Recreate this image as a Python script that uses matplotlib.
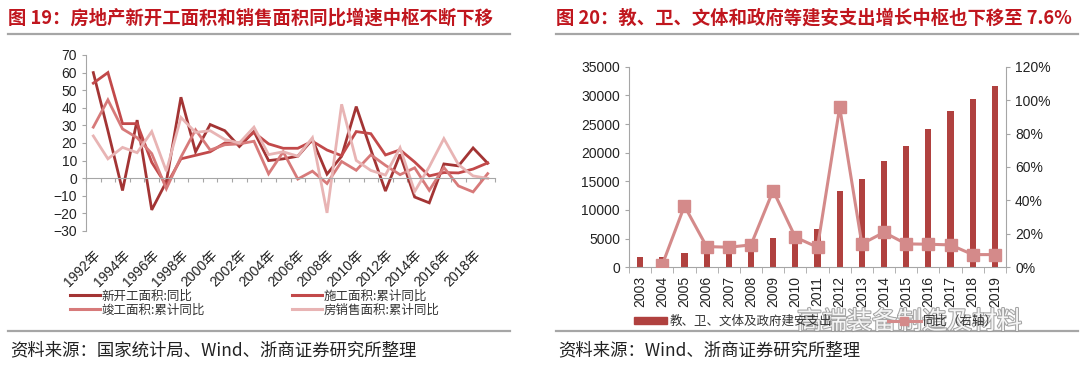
import numpy as np
import matplotlib
matplotlib.use("Agg")
import matplotlib.pyplot as plt
from matplotlib.lines import Line2D
from matplotlib.patches import Patch
import matplotlib.patheffects as pe
from matplotlib.ticker import FuncFormatter, MultipleLocator, FixedLocator

plt.rcParams['font.family'] = ['Liberation Sans', 'Noto Sans CJK SC', 'DejaVu Sans']

# ---------------- data: left chart ----------------
years_left = list(range(1992, 2020))
xtick_labels_left = [f"{y}年" for y in range(1992, 2020, 2)]
new_start = [60, 27, -7, 33, -18, -2, 46, 15, 30.5, 27, 18, 26.5, 10, 11, 12.5, 22,
             2.3, 12.5, 40.7, 16.2, -7.3, 13.5, -10.7, -14, 8.1, 7, 17.2, 8.5]
under_constr = [54, 60, 31, 31, 9, -4, 11, 13, 15, 20, 20, 26, 19.5, 17, 17, 21,
                16, 12.8, 26.5, 25.3, 13.2, 16.1, 9.2, 1.3, 3.2, 3.0, 5.2, 8.7]
completed = [29, 44.5, 28, 23, 14, -6, 12, 27.5, 16, 19, 19.5, 21, 2.5, 15, -0.5, 4,
             -3, 9.5, 4.5, 13.3, 7.3, 2.0, 5.9, -6.9, 6.1, -4.4, -7.8, 2.6]
sales = [24, 11, 17.5, 14.5, 26.5, 4, 34.5, 26, 27, 22, 20, 29, 13.4, 15, 12.5, 23,
         -19.7, 42, 10.1, 4.4, 1.8, 17.3, -7.6, 6.5, 22.5, 7.7, 1.3, -0.1]
series_names = ["新开工面积:同比", "施工面积:累计同比", "竣工面积:累计同比", "房销售面积:累计同比"]

# ---------------- data: right chart ----------------
years_right = [str(y) for y in range(2003, 2020)]
spend = [1740, 1770, 2430, 2750, 3100, 3500, 5100, 5970, 6690, 13390, 15370,
         18570, 21240, 24100, 27300, 29450, 31550]
growth = [np.nan, 1.5, 36.7, 12.4, 12.0, 13.4, 45.9, 18.0, 12.0, 95.7, 14.0,
          20.9, 14.0, 13.8, 13.4, 7.6, 7.6]
right_names = ["教、卫、文体及政府建安支出", "同比（右轴）"]

W, H = 1080, 368
fig = plt.figure(figsize=(W / 100, H / 100), dpi=100)
fig.patch.set_facecolor('white')

def fx(px):
    return px / W

def fy(py):
    return 1 - py / H

title_color = '#C0161E'
gray = '#A6A6A6'
cjk = ['Noto Sans CJK SC', 'DejaVu Sans']

# titles
fig.text(fx(8), fy(18), "图 19：房地产新开工面积和销售面积同比增速中枢不断下移",
         fontsize=13.2, fontweight='bold', color=title_color, va='center', ha='left', family=cjk)
fig.text(fx(556), fy(18), "图 20：教、卫、文体和政府等建安支出增长中枢也下移至 7.6%",
         fontsize=13.2, fontweight='bold', color=title_color, va='center', ha='left', family=cjk)
for x0, x1 in [(8, 510), (556, 1078)]:
    fig.add_artist(Line2D([fx(x0), fx(x1)], [fy(34), fy(34)], color=gray, lw=1.6))
    fig.add_artist(Line2D([fx(x0), fx(x1)], [fy(331), fy(331)], color=gray, lw=1.6))

fig.text(fx(10), fy(350), "资料来源：国家统计局、Wind、浙商证券研究所整理",
         fontsize=12.5, color='#222222', va='center', ha='left', family=cjk)
fig.text(fx(558), fy(350), "资料来源：Wind、浙商证券研究所整理",
         fontsize=12.5, color='#222222', va='center', ha='left', family=cjk)

# ---------------- left chart ----------------
axL = fig.add_axes([fx(86), fy(231), fx(495 - 86), (231 - 55) / H])
x = np.arange(len(years_left))
colors = ['#A33434', '#C2494A', '#D77A7A', '#E8B4B4']
for vals, c, name in zip([new_start, under_constr, completed, sales], colors, series_names):
    axL.plot(x, vals, color=c, lw=2.0, label=name, solid_joinstyle='miter')
axL.set_xlim(-0.5, len(years_left) - 0.5)
axL.set_ylim(-30, 70)
axL.yaxis.set_major_locator(MultipleLocator(10))
for s in ['top', 'right']:
    axL.spines[s].set_visible(False)
axL.spines['left'].set_color(gray)
axL.spines['bottom'].set_position(('data', 0))
axL.spines['bottom'].set_color(gray)
axL.xaxis.set_major_locator(FixedLocator(np.arange(-0.5, len(years_left), 1)))
axL.tick_params(axis='x', length=3, color=gray, labelbottom=False, direction='out')
axL.tick_params(axis='y', length=3, color=gray, labelsize=10, labelcolor='#222222')
secL = axL.secondary_xaxis(0.0)
secL.set_xticks(np.arange(0, len(years_left), 2))
secL.set_xticklabels(xtick_labels_left, rotation=45, ha='right', rotation_mode='anchor',
                     fontsize=10, color='#222222', family=['Liberation Sans', 'Noto Sans CJK SC'])
secL.tick_params(length=0, pad=12)
secL.spines['bottom'].set_visible(False)
axL.patch.set_alpha(0)

order = [0, 2, 1, 3]
handlesL = [Line2D([0], [0], color=colors[i], lw=2.2) for i in order]
labelsL = [series_names[i] for i in order]
legL = fig.legend(handlesL, labelsL, loc='center left', bbox_to_anchor=(fx(64), fy(303)),
                  ncol=2, frameon=False, prop={'family': cjk, 'size': 9},
                  handlelength=2.4, handletextpad=0.1, columnspacing=7.0, labelspacing=0.1,
                  borderpad=0)
for t in legL.get_texts():
    t.set_color('#333333')

# ---------------- right chart ----------------
axR = fig.add_axes([fx(629), fy(267.3), fx(1006 - 629), (267.3 - 66.7) / H])
xr = np.arange(len(years_right))
bar_color = '#B0413F'
line_color = '#D48A8A'
axR.bar(xr, spend, width=0.28, color=bar_color, zorder=2)
axR.set_xlim(-0.5, len(years_right) - 0.5)
axR.set_ylim(0, 35000)
axR.yaxis.set_major_locator(MultipleLocator(5000))
axR.spines['top'].set_visible(False)
axR.spines['right'].set_visible(False)
axR.spines['left'].set_color(gray)
axR.spines['bottom'].set_color(gray)
axR.set_xticks(xr)
axR.set_xticklabels(years_right, rotation=90, fontsize=10, color='#222222')
axR.tick_params(axis='x', length=0, pad=6)
axR.xaxis.set_minor_locator(FixedLocator(np.arange(-0.5, len(years_right), 1)))
axR.tick_params(axis='x', which='minor', length=4, color=gray)
axR.tick_params(axis='y', length=3, color=gray, labelsize=10, labelcolor='#222222')

axR2 = axR.twinx()
axR2.plot(xr, growth, color=line_color, lw=2.2, marker='s', markersize=8.5,
          markerfacecolor=line_color, markeredgecolor=line_color, zorder=3)
axR2.set_ylim(0, 120)
axR2.yaxis.set_major_locator(MultipleLocator(20))
axR2.yaxis.set_major_formatter(FuncFormatter(lambda v, p: f"{v:.0f}%"))
for s in ['top', 'left', 'bottom']:
    axR2.spines[s].set_visible(False)
axR2.spines['right'].set_color(gray)
axR2.tick_params(axis='y', length=3, color=gray, labelsize=10, labelcolor='#222222')

handlesR = [Patch(color=bar_color),
            Line2D([0], [0], color=line_color, lw=2.2, marker='s', markersize=6)]
legR = fig.legend(handlesR, right_names, loc='center left',
                  bbox_to_anchor=(fx(628), fy(321)), ncol=2, frameon=False,
                  prop={'family': cjk, 'size': 9}, handlelength=2.6, handleheight=0.5,
                  handletextpad=0.2, columnspacing=4.5, borderpad=0)
for t in legR.get_texts():
    t.set_color('#333333')

# watermark
fig.text(fx(797), fy(322), "高端装备制造及材料", fontsize=18, color='white', alpha=0.9,
         va='center', ha='left', family=cjk,
         path_effects=[pe.withStroke(linewidth=1.5, foreground='#9A9A9A')])

fig.savefig("out.png", dpi=100)
